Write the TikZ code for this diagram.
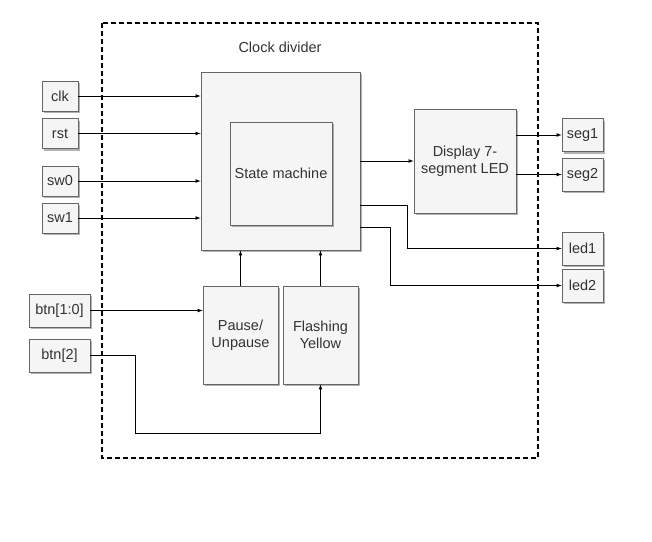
\documentclass[tikz,border=0pt]{standalone}
\usepackage{fontspec}
\setmainfont{Liberation Sans}
\usetikzlibrary{shadows}
\definecolor{boxfill}{HTML}{F5F5F5}
\definecolor{boxline}{HTML}{666666}
\definecolor{boxtext}{HTML}{333333}
\tikzset{
  blk/.style={draw=boxline,fill=boxfill,text=boxtext,line width=0.8pt,
    drop shadow={shadow xshift=2pt,shadow yshift=-2pt,fill=black,opacity=0.3},
    inner sep=2pt,align=center,font=\fontsize{14.5}{17.5}\selectfont},
  io/.style={blk,minimum width=36pt,minimum height=30pt},
  wire/.style={-latex,line width=0.7pt}
}
\begin{document}
\begin{tikzpicture}[x=1pt,y=-1pt]
        \useasboundingbox (0,0) rectangle (652,541);
        \draw[line width=1.5pt,dash pattern=on 5pt off 3pt](102,23)rectangle(538,458);
        \node[text=boxtext,font=\fontsize{14.5}{17.5}\selectfont](title)at(280,47){Clock divider};
        % main blocks
        \node[blk,minimum width=159pt,minimum height=178pt](sm)at(280.5,161){};
        \node[blk,minimum width=102pt,minimum height=103pt](core)at(281,173.5){State machine};
        \node[blk,minimum width=102pt,minimum height=104pt](disp)at(465,161){Display 7-\\segment LED};
        \node[blk,minimum width=75pt,minimum height=98pt](pause)at(240.5,335){Pause/\\Unpause};
        \node[blk,minimum width=75pt,minimum height=98pt](flash)at(320.5,335){Flashing\\Yellow};
        % inputs and outputs
        \foreach \name/\y in {clk/96,rst/133.5,sw0/181,sw1/218}
          \node[io](\name)at(60,\y){\name};
        \foreach \name/\y in {seg1/135,seg2/174.5,led1/248.5,led2/285.5}
          \node[io,minimum width=41pt,minimum height=33pt](\name)at(582.5,\y){\name};
        \node[io,minimum width=61pt,minimum height=33pt](btn1)at(59.5,310.5){btn[1:0]};
        \node[io,minimum width=61pt,minimum height=33pt](btn2)at(59.5,355.5){btn[2]};
        % wires
        \foreach \name in {clk,rst,sw0,sw1}
          \draw[wire](\name.east)--(sm.west|-\name.east);
        \draw[wire](sm.east)--(disp.west);
        \foreach \name in {seg1,seg2}
          \draw[wire](disp.east|-\name.west)--(\name.west);
        \draw[wire](sm.east|-0,205)--++(47,0)|-(led1.west);
        \draw[wire](sm.east|-0,227)--++(30,0)|-(led2.west);
        \draw[wire](btn1.east)--(pause.west|-btn1.east);
        \draw[wire](btn2.east)--++(45,0)|-(flash.south|-0,433)--(flash.south);
        \draw[wire](pause.north)--(pause.north|-sm.south);
        \draw[wire](flash.north)--(flash.north|-sm.south);
    \end{tikzpicture}
\end{document}
